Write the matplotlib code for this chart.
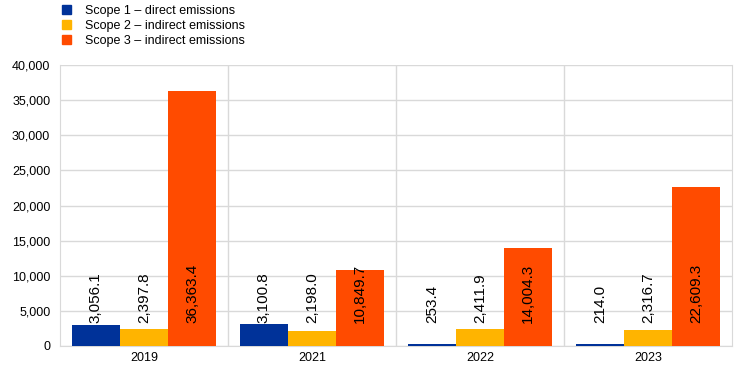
import numpy as np
import matplotlib.pyplot as plt
from matplotlib.patches import Patch

plt.rcParams['font.family'] = ['Liberation Sans', 'DejaVu Sans']

years = ["2019", "2021", "2022", "2023"]
series_names = ["Scope 1 – direct emissions", "Scope 2 – indirect emissions", "Scope 3 – indirect emissions"]
scope1 = [3056.1, 3100.8, 253.4, 214.0]
scope2 = [2397.8, 2198.0, 2411.9, 2316.7]
scope3 = [36363.4, 10849.7, 14004.3, 22609.3]
colors = ["#003299", "#FFB400", "#FF4B00"]

fig = plt.figure(figsize=(7.44, 3.73), dpi=100)
ax = fig.add_axes([60 / 744, 27 / 373, 672 / 744, 281 / 373])

x = np.arange(len(years))
w = 0.286
for i, (vals, c) in enumerate(zip([scope1, scope2, scope3], colors)):
    pos = x + (i - 1) * w
    ax.bar(pos, vals, width=w, color=c, zorder=3)
    for p, v in zip(pos, vals):
        ax.text(p, 3300, f"{v:,.1f}", rotation=90, ha="center", va="bottom",
                fontsize=11, color="black", zorder=4)

ax.set_xlim(-0.5, 3.5)
ax.set_ylim(0, 40000)
ax.set_yticks(np.arange(0, 40001, 5000))
ax.set_yticklabels([f"{t:,}" for t in range(0, 40001, 5000)])
ax.set_xticks(x)
ax.set_xticklabels(years)
ax.tick_params(axis="both", length=0, labelsize=9)
ax.tick_params(axis="y", pad=7)
ax.tick_params(axis="x", pad=4)
ax.grid(axis="y", color="#d9d9d9", linewidth=1, zorder=0)
for sep in [0.5, 1.5, 2.5]:
    ax.axvline(sep, color="#d9d9d9", linewidth=1, zorder=0)
ax.spines["top"].set_visible(False)
for s in ["left", "right", "bottom"]:
    ax.spines[s].set_color("#d9d9d9")

handles = [Patch(color=c) for c in colors]
fig.legend(handles, series_names, loc="upper left", bbox_to_anchor=(0.068, 1.018),
           frameon=False, fontsize=9, handlelength=0.75, handleheight=0.75,
           handletextpad=1.1, labelspacing=0.25)

fig.savefig("out.png", dpi=100)
